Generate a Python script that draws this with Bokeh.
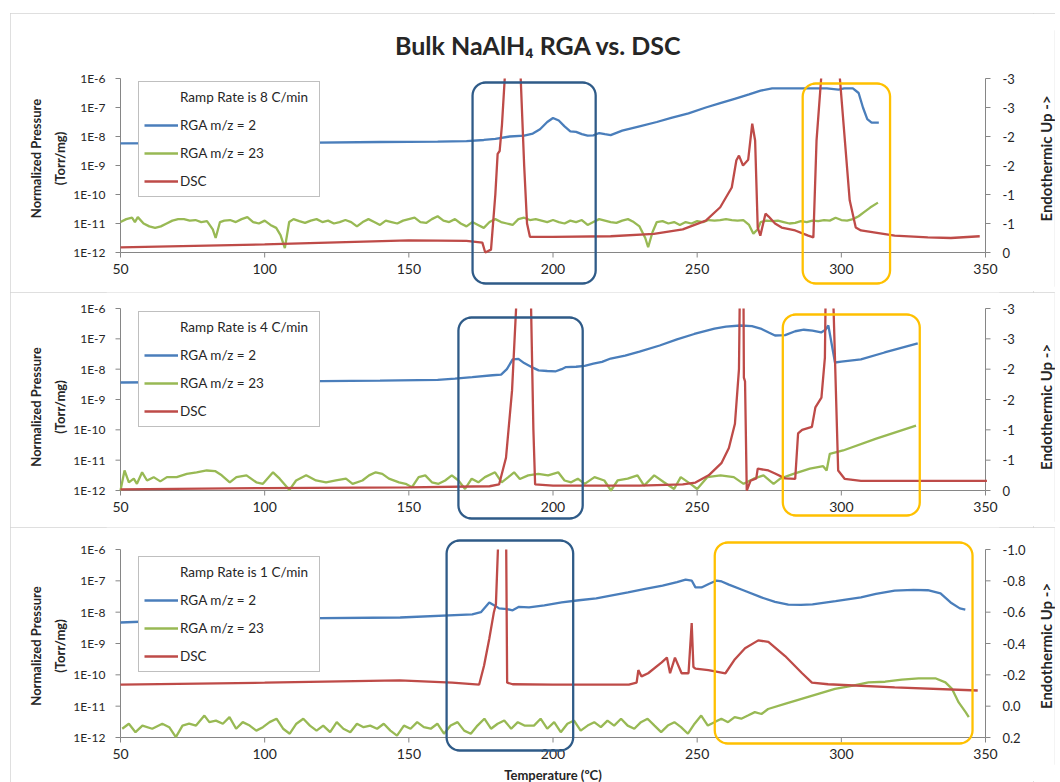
import math
from bokeh.plotting import figure
from bokeh.models import (Range1d, LinearAxis, LinearScale, FixedTicker, CustomJSTickFormatter,
                          Legend, LegendItem, PolyAnnotation, Title, Spacer)
from bokeh.core.properties import value
from bokeh.layouts import column, row
from bokeh.embed import file_html
from bokeh.resources import INLINE

# ---------------- texts / ticks ----------------
CHART_TITLE = "Bulk NaAlH\u2084 RGA vs. DSC"
X_LABEL = "Temperature (\u00baC)"
Y_LABEL = "Normalized Pressure\n(Torr/mg)"
Y2_LABEL = "Endothermic Up ->"
SERIES = ["RGA m/z = 2", "RGA m/z = 23", "DSC"]
RAMP_LABELS = ["Ramp Rate is 8 C/min", "Ramp Rate is 4 C/min", "Ramp Rate is 1 C/min"]
TEMP_TICKS = [50, 100, 150, 200, 250, 300, 350]
PRESSURE_TICKS = [1e-12, 1e-11, 1e-10, 1e-9, 1e-8, 1e-7, 1e-6]
DSC_TICKS_FAST = [0, -0.5, -1.0, -1.5, -2.0, -2.5, -3.0]
DSC_TICKS_SLOW = [0.2, 0.0, -0.2, -0.4, -0.6, -0.8, -1.0]

# ---------------- data: (temperature, log10 pressure) and (temperature, DSC) ----------------
# Ramp 8 C/min
h2_8 = [(50,-8.24),(80,-8.23),(110,-8.22),(140,-8.19),(160,-8.18),(170,-8.16),(176,-8.12),(180,-8.08),
        (185,-8.0),(190,-7.97),(193,-7.9),(195.5,-7.75),(198,-7.5),(200,-7.36),(202,-7.45),(204,-7.65),
        (206,-7.82),(208,-7.84),(210,-7.92),(212,-7.97),(214,-7.96),(216,-7.88),(218,-7.92),(220,-7.95),
        (224,-7.8),(230,-7.65),(236,-7.5),(241,-7.36),(247,-7.2),(253,-7.0),(258,-6.85),(263,-6.7),
        (268,-6.55),(272,-6.42),(276,-6.34),(285,-6.34),(295,-6.34),(299,-6.38),(301,-6.34),(304,-6.34),
        (306,-6.5),(307.5,-7.0),(309,-7.4),(310.5,-7.52),(313,-7.52)]
na_8 = [(50,-10.95),(52,-10.85),(54,-10.8),(55,-10.95),(56,-10.78),(58,-11.0),(60,-11.1),(62,-11.15),
        (64,-11.1),(66,-11.0),(68,-10.9),(70,-10.85),(72,-10.85),(74,-10.9),(76,-10.88),(78,-10.95),
        (80,-10.92),(82,-11.2),(83,-11.5),(84.5,-10.95),(86,-10.9),(88,-10.88),(90,-10.95),(92,-10.85),
        (94,-10.78),(96,-10.95),(98,-11.0),(100,-10.9),(102,-11.05),(104,-11.15),(105.5,-11.4),(107,-11.85),
        (108.5,-10.95),(110,-10.85),(112,-10.92),(114,-10.98),(116,-10.9),(118,-10.85),(120,-10.95),
        (122,-10.9),(124,-11.0),(126,-10.95),(128,-10.88),(130,-10.95),(132,-11.1),(134,-10.95),
        (136,-10.85),(138,-10.95),(140,-11.05),(142,-10.9),(144,-10.95),(146,-11.0),(148,-10.9),
        (150,-10.85),(152,-10.8),(154,-10.95),(156,-10.98),(158,-10.85),(160,-10.75),(162,-10.9),
        (164,-10.95),(166,-10.85),(168,-11.0),(170,-11.1),(172,-10.95),(174,-11.05),(176,-11.15),
        (178,-10.95),(180,-10.85),(182,-10.95),(184,-11.0),(186,-11.05),(188,-10.85),(190,-10.8),
        (192,-10.88),(194,-10.85),(196,-10.9),(198,-10.95),(200,-10.88),(202,-10.95),(204,-11.0),
        (206,-10.9),(208,-10.95),(210,-10.88),(212,-11.05),(214,-10.95),(216,-10.85),(218,-10.9),
        (220,-10.95),(222,-10.98),(224,-10.9),(226,-10.85),(228,-10.95),(230,-11.1),(232,-11.5),
        (233,-11.82),(234.5,-11.3),(236,-10.95),(238,-10.92),(240,-11.0),(242,-10.95),(244,-11.05),
        (246,-10.95),(248,-11.0),(250,-10.92),(252,-10.95),(254,-10.88),(256,-10.9),(258,-10.88),
        (260,-10.85),(262,-10.88),(264,-10.9),(266,-10.88),(268,-11.05),(269.5,-11.35),(271,-11.2),
        (272,-10.95),(274,-10.9),(276,-10.92),(278,-10.9),(280,-10.95),(282,-11.0),(284,-10.98),
        (286,-10.92),(288,-10.95),(290,-10.9),(292,-10.92),(294,-10.88),(296,-10.9),(298,-10.8),
        (300,-10.88),(302,-10.9),(304,-10.85),(306,-10.75),(308,-10.6),(310,-10.45),(312.7,-10.28)]
dsc_8 = [(50,-0.09),(100,-0.14),(150,-0.21),(170,-0.2),(175.5,-0.17),(176.5,0.0),(178.5,-0.05),
         (180,-1.0),(180.8,-1.7),(181.5,-1.75),(182.3,-2.2),(183.5,-3.2),(185,-5.0),(187.5,-5.0),
         (188.8,-3.0),(190,-1.5),(191,-0.5),(192,-0.27),(200,-0.27),(220,-0.28),(235,-0.32),(245,-0.4),
         (253,-0.55),(258,-0.78),(262,-1.12),(263.6,-1.59),(264.5,-1.67),(265.9,-1.5),(267.7,-1.6),
         (269.1,-2.22),(270.1,-1.93),(271,-0.43),(271.9,-0.29),(273.7,-0.67),(274.8,-0.62),(277,-0.5),
         (279.3,-0.43),(284,-0.38),(288.5,-0.29),(290.3,-0.26),(291.4,-1.93),(293,-3.0),(294,-5.0),
         (298.5,-5.0),(299.5,-3.0),(302.9,-0.9),(305,-0.43),(306.8,-0.38),(318.5,-0.29),(330,-0.26),
         (338,-0.25),(348,-0.28)]

# Ramp 4 C/min
h2_4 = [(50,-8.44),(80,-8.42),(110,-8.4),(140,-8.38),(160,-8.35),(166,-8.31),(172,-8.26),(179,-8.2),
        (182,-8.18),(184,-8.0),(186,-7.68),(188,-7.66),(190,-7.8),(193,-7.95),(195,-8.04),(198,-8.06),
        (201,-8.07),(203,-8.0),(204.5,-7.93),(208,-7.92),(211,-7.89),(214,-7.82),(217,-7.76),(220,-7.65),
        (225,-7.55),(230,-7.42),(237,-7.22),(243,-7.02),(249,-6.84),(256,-6.66),(260,-6.6),(265,-6.56),
        (269,-6.58),(272,-6.66),(275,-6.8),(277,-6.89),(280.5,-6.88),(284,-6.75),(287,-6.7),(290,-6.73),
        (293,-6.79),(294.5,-6.7),(295.5,-6.56),(297.8,-7.78),(300,-7.75),(306.8,-7.68),(315,-7.45),
        (326.5,-7.15)]
na_4 = [(50,-12.0),(51.4,-11.34),(52.9,-11.73),(54.6,-11.61),(55.7,-11.78),(57.5,-11.4),(59.2,-11.67),
        (61.5,-11.56),(63.8,-11.7),(66.1,-11.56),(69.5,-11.56),(73,-11.45),(76.4,-11.4),(79.9,-11.34),
        (82.8,-11.36),(85.1,-11.5),(87.9,-11.73),(90.2,-11.56),(93.7,-11.5),(97.1,-11.73),(99.4,-11.78),
        (102.9,-11.4),(105.2,-11.61),(108.6,-11.98),(110.9,-11.67),(114.4,-11.5),(117.8,-11.67),
        (121.3,-11.73),(124.7,-11.67),(128.2,-11.61),(130.5,-11.78),(133.9,-11.67),(136.2,-11.5),
        (138.5,-11.4),(140.8,-11.45),(143.1,-11.61),(146.6,-11.73),(148.9,-11.78),(151.1,-11.89),
        (153.4,-11.56),(155.7,-11.5),(158,-11.73),(160.3,-11.78),(162.6,-11.67),(164.9,-11.5),
        (167.2,-11.67),(169.5,-11.95),(171.8,-11.61),(174.1,-11.73),(176.4,-11.56),(179.9,-11.4),
        (182.2,-11.73),(184.5,-11.56),(186.5,-11.4),(188.5,-11.62),(191.4,-11.5),(194.9,-11.45),
        (198.3,-11.5),(201.8,-11.4),(204,-11.67),(206.3,-11.73),(208.6,-11.61),(211,-11.78),
        (214.4,-11.56),(217.8,-11.67),(220.1,-12.0),(222.4,-11.67),(225.9,-11.61),(229.3,-11.5),
        (231.6,-11.84),(235.1,-11.5),(238.5,-11.73),(242,-11.95),(244.3,-11.56),(247.7,-11.78),
        (250,-11.95),(253.5,-11.56),(258.1,-11.5),(262.7,-11.56),(266.1,-11.78),(269.6,-11.61),
        (273,-11.5),(276.5,-11.78),(278.8,-11.61),(283.4,-11.45),(289.1,-11.28),(293.7,-11.2),
        (294.9,-11.34),(296,-10.79),(300.6,-10.68),(312.1,-10.29),(325.9,-9.86)]
dsc_4 = [(50,-0.02),(100,-0.04),(150,-0.05),(178,-0.07),(181.3,-0.1),(183.7,-0.54),(185.8,-1.65),
         (187.2,-3.0),(188,-5.0),(191.5,-5.0),(192.4,-3.0),(193.2,-1.0),(193.8,-0.1),(200,-0.08),
         (230,-0.08),(245,-0.1),(249.4,-0.13),(254,-0.25),(258.4,-0.45),(261,-0.7),(263.1,-1.1),
         (264.5,-2.0),(265.2,-5.0),(265.9,-5.0),(266.2,-1.86),(266.6,-1.8),(267.2,0.0),(268.5,-0.16),
         (270.5,-0.2),(271,-0.36),(274.7,-0.33),(277,-0.28),(280.5,-0.2),(284,-0.19),(285,-0.94),
         (286.4,-1.0),(289.8,-1.05),(291,-1.37),(293.1,-1.53),(294.3,-2.19),(295,-5.0),(296.8,-5.0),
         (297.3,-3.0),(298.9,-0.33),(301.2,-0.19),(306.8,-0.16),(320,-0.16),(350.5,-0.16)]

# Ramp 1 C/min
h2_1 = [(50,-8.33),(78,-8.23),(110,-8.2),(147,-8.17),(172,-8.07),(175,-8.0),(177.9,-7.69),(180,-7.8),
        (181.3,-7.88),(184,-7.9),(186,-7.94),(188.2,-7.83),(191.7,-7.85),(197,-7.78),(203,-7.69),
        (209,-7.62),(215,-7.56),(220,-7.47),(226,-7.37),(232,-7.26),(238,-7.15),(243,-7.04),(246,-6.96),
        (248.1,-6.99),(249.4,-7.21),(251.5,-7.21),(254,-7.1),(256.7,-6.99),(258.5,-7.02),(261,-7.12),
        (266,-7.3),(272.3,-7.53),(277,-7.67),(281.6,-7.76),(286,-7.77),(290,-7.75),(298,-7.65),
        (306.8,-7.53),(312,-7.42),(318.5,-7.31),(325,-7.29),(330,-7.3),(334.4,-7.4),(337.9,-7.69),
        (341.1,-7.88),(343,-7.92)]
na_1 = [(50.6,-11.72),(52.9,-11.56),(55.2,-11.83),(57.6,-11.62),(61,-11.72),(64.5,-11.56),(66.9,-11.67),
        (69.2,-11.99),(71.5,-11.62),(73.8,-11.56),(76.2,-11.62),(79.1,-11.3),(80.8,-11.51),(83.1,-11.46),
        (85.5,-11.56),(87.8,-11.35),(90.1,-11.72),(92.4,-11.51),(94.8,-11.62),(97.1,-11.78),(99.4,-11.67),
        (101.7,-11.51),(104.1,-11.4),(106.4,-11.72),(108.7,-11.88),(111,-11.56),(113.4,-11.4),
        (115.7,-11.62),(118,-11.78),(120.3,-11.62),(122.7,-11.83),(125,-11.51),(127.3,-11.72),
        (129.7,-11.83),(132,-11.56),(134.3,-11.67),(136.6,-11.62),(139,-11.72),(141.3,-11.56),
        (143.6,-11.78),(145.9,-11.94),(148.3,-11.62),(150.6,-11.72),(152.9,-11.51),(155.2,-11.67),
        (157.6,-11.72),(159.9,-11.56),(162.2,-11.88),(164.5,-11.62),(166.9,-11.51),(169.2,-11.78),
        (171.5,-11.88),(173.8,-11.62),(176.2,-11.4),(178.5,-11.72),(180.8,-11.56),(183.1,-11.46),
        (185.5,-11.72),(187.8,-11.51),(190.1,-11.62),(193.4,-11.62),(195.7,-11.4),(198,-11.72),
        (200.4,-11.51),(202.7,-11.83),(205,-11.56),(207.3,-11.46),(209.6,-11.78),(212,-11.62),
        (214.3,-11.51),(216.6,-11.67),(218.9,-11.46),(221.2,-11.62),(223.6,-11.4),(225.9,-11.62),
        (228.2,-11.72),(230.5,-11.51),(232.8,-11.4),(235.2,-11.62),(237.5,-11.83),(239.8,-11.62),
        (242.1,-11.51),(244.4,-11.67),(246.8,-11.88),(249.1,-11.56),(251.4,-11.3),(253.7,-11.62),
        (256,-11.51),(258.4,-11.4),(260.7,-11.51),(263,-11.35),(265.3,-11.4),(267.6,-11.3),(270,-11.19),
        (272.3,-11.25),(274.6,-11.09),(280.4,-10.93),(286.2,-10.77),(292,-10.61),(297.8,-10.45),
        (303.6,-10.35),(309.4,-10.24),(315.2,-10.22),(321,-10.15),(326.8,-10.11),(332.6,-10.11),
        (336.1,-10.24),(338.4,-10.45),(340.7,-10.88),(343.1,-11.19),(344.2,-11.35)]
dsc_1 = [(50,-0.138),(100,-0.15),(146.8,-0.164),(165,-0.15),(174.4,-0.138),(176.1,-0.26),(177.9,-0.43),
         (179.5,-0.6),(180.2,-0.65),(181.3,-1.2),(182,-1.5),(183,-1.5),(183.7,-1.2),(184.1,-0.15),
         (186,-0.14),(200,-0.138),(226.3,-0.138),(229,-0.15),(229.6,-0.23),(230.7,-0.19),(233,-0.21),
         (237.7,-0.28),(239.5,-0.31),(240.6,-0.21),(242.3,-0.31),(244.6,-0.21),(247,-0.21),(248.1,-0.53),
         (248.7,-0.25),(249.4,-0.24),(253.9,-0.23),(259.8,-0.21),(263.1,-0.3),(266.6,-0.37),(271.2,-0.42),
         (274.7,-0.41),(280.5,-0.32),(286.4,-0.21),(289.8,-0.15),(295.4,-0.14),(318.5,-0.12),(347.3,-0.1)]

# highlighted temperature windows (blue: first decomposition, gold: second)
highlight_8 = [(172.1, 214.8), (286.6, 316.9)]
highlight_4 = [(167.2, 210.3), (279.7, 327.2)]
highlight_1 = [(163.1, 207.0), (256.1, 345.5)]

# ---------------- style / layout ----------------
FONT = "Lato"
TEXT = "#262626"
AXIS_GREY = "#868686"
C_H2 = "#4a7ebb"
C_NA = "#98b954"
C_DSC = "#be4b48"
C_BOX = ["#2f5b88", "#ffc000"]
PANEL_OUTLINE = {"outline": "1px solid #d4d4d4", "outline-offset": "-1px"}

DATA_W = 865          # pixels between 50 and 350 C
EXT = 14              # frame room left/right of the data span (axis ticks, end labels)
LEFT_B, RIGHT_B = 96, 34
MAIN_W = LEFT_B + EXT + DATA_W + EXT + RIGHT_B
SIDE_W = 1045 - MAIN_W
SIDE_BORDER = SIDE_W - 15
PPX = DATA_W / 300.0
TICK = 5              # tick length, px

# pixel geometry: top/bottom = figure borders, data_h = 1E-6..1E-12 span,
# pad_top/pad_bot = frame room above/below that span (title, boxes, temperature labels)
PANELS = [
    dict(ramp=RAMP_LABELS[0], h2=h2_8, na=na_8, dsc=dsc_8, boxes=highlight_8,
         height=279, top=17, bottom=6, data_h=174, pad_top=48, pad_bot=34,
         dsc_axis=(-3.0, 0.0), dsc_ticks=DSC_TICKS_FAST, dsc_fmt="return tick.toFixed(0);",
         legend_top=53, box_px=[(4, 31), (5, 31)], title=True, xlabel=False),
    dict(ramp=RAMP_LABELS[1], h2=h2_4, na=na_4, dsc=dsc_4, boxes=highlight_4,
         height=235, top=0, bottom=6, data_h=182, pad_top=16, pad_bot=31,
         dsc_axis=(-3.0, 0.0), dsc_ticks=DSC_TICKS_FAST, dsc_fmt="return tick.toFixed(0);",
         legend_top=21, box_px=[(9, 28), (6, 25)], title=False, xlabel=False),
    dict(ramp=RAMP_LABELS[2], h2=h2_1, na=na_1, dsc=dsc_1, boxes=highlight_1,
         height=255, top=0, bottom=18, data_h=188, pad_top=22, pad_bot=27,
         dsc_axis=(-1.0, 0.2), dsc_ticks=DSC_TICKS_SLOW, dsc_fmt="return tick.toFixed(1);",
         legend_top=31, box_px=[(-9, 13), (-7, 6)], title=False, xlabel=True),
]


def label_only_axis(ax, size, standoff):
    """Axis used only for its tick labels; its rule and ticks are drawn at the data edge."""
    ax.axis_line_color = None
    ax.major_tick_line_color = None
    ax.major_tick_out = 0
    ax.major_tick_in = 0
    ax.minor_tick_line_color = None
    ax.minor_tick_out = 0
    ax.minor_tick_in = 0
    ax.major_label_standoff = standoff
    ax.major_label_text_font = FONT
    ax.major_label_text_font_size = size
    ax.major_label_text_color = TEXT


def clip_above(xs, ys, limit):
    """Break a DSC trace where it leaves the axis top (values below `limit`)."""
    ox, oy = [], []
    for i, (x, y) in enumerate(zip(xs, ys)):
        if i > 0:
            x0, y0 = xs[i - 1], ys[i - 1]
            if (y0 >= limit) != (y >= limit):
                ox.append(x0 + (limit - y0) * (x - x0) / (y - y0))
                oy.append(limit)
                if y < limit:
                    ox.append(float("nan"))
                    oy.append(float("nan"))
        if y >= limit:
            ox.append(x)
            oy.append(y)
    return ox, oy


def rounded_outline(x0, x1, ytop, ybot, px_per_x, px_per_dec, radius=13, n=8):
    """Outline of a rounded rectangle in (temperature, log-pressure) space."""
    rx, ry = radius / px_per_x, radius / px_per_dec
    xs, ys = [], []
    for cx, cy, a0 in [(x1 - rx, ytop - ry, 0), (x0 + rx, ytop - ry, 90),
                       (x0 + rx, ybot + ry, 180), (x1 - rx, ybot + ry, 270)]:
        for k in range(n + 1):
            a = math.radians(a0 + 90.0 * k / n)
            xs.append(cx + rx * math.cos(a))
            ys.append(10 ** (cy + ry * math.sin(a)))
    return xs, ys


def side_title(height, top, bottom, text):
    p = figure(width=SIDE_W, height=height, x_range=Range1d(0, 1), y_range=Range1d(0, 1),
               toolbar_location=None, output_backend="svg",
               min_border_left=SIDE_BORDER, min_border_right=0,
               min_border_top=top, min_border_bottom=bottom)
    p.xaxis.visible = False
    p.grid.visible = False
    p.outline_line_color = None
    p.border_fill_color = "white"
    ax = p.yaxis[0]
    ax.ticker = FixedTicker(ticks=[])
    label_only_axis(ax, "1px", 0)
    ax.axis_label = text
    ax.axis_label_standoff = 0
    ax.axis_label_text_font = FONT
    ax.axis_label_text_font_style = "bold"
    ax.axis_label_text_font_size = "15px"
    ax.axis_label_text_color = TEXT
    return p


def make_panel(cfg):
    data_h, pad_t, pad_b = cfg["data_h"], cfg["pad_top"], cfg["pad_bot"]
    frame_h = data_h + pad_t + pad_b
    ppd = data_h / 6.0
    ylog_hi = -6 + pad_t / ppd
    ylog_lo = -12 - pad_b / ppd
    d_top, d_bot = cfg["dsc_axis"]
    upp = (d_bot - d_top) / data_h
    dsc_hi = d_top - pad_t * upp
    dsc_lo = d_bot + pad_b * upp
    t0, t1 = TEMP_TICKS[0], TEMP_TICKS[-1]
    p_lo, p_hi = PRESSURE_TICKS[0], PRESSURE_TICKS[-1]

    p = figure(width=MAIN_W, height=cfg["height"],
               x_range=Range1d(t0 - EXT / PPX, t1 + EXT / PPX),
               y_range=Range1d(10 ** ylog_lo, 10 ** ylog_hi), y_axis_type="log",
               output_backend="svg", toolbar_location=None,
               min_border_top=cfg["top"], min_border_bottom=cfg["bottom"],
               min_border_left=LEFT_B, min_border_right=RIGHT_B)
    p.grid.visible = False
    p.outline_line_color = None
    p.background_fill_color = "white"
    p.border_fill_color = "white"
    p.xaxis.visible = False

    # left pressure axis: labels from the Bokeh axis, rule and ticks at 50 C
    ya = p.yaxis[0]
    ya.ticker = FixedTicker(ticks=PRESSURE_TICKS)
    ya.formatter = CustomJSTickFormatter(code="return '1E' + Math.round(Math.log10(tick));")
    label_only_axis(ya, "12px", 1)
    ya.axis_label = Y_LABEL
    ya.axis_label_standoff = 2
    ya.axis_label_text_font = FONT
    ya.axis_label_text_font_style = "bold"
    ya.axis_label_text_font_size = "13px"
    ya.axis_label_text_line_height = 1.5
    ya.axis_label_text_color = TEXT
    m = len(PRESSURE_TICKS)
    p.segment(x0=[t0], y0=[p_lo], x1=[t0], y1=[p_hi], line_color=AXIS_GREY, line_width=1)
    p.segment(x0=[t0] * m, y0=PRESSURE_TICKS, x1=[t0 - TICK / PPX] * m, y1=PRESSURE_TICKS,
              line_color=AXIS_GREY, line_width=1)

    # right DSC axis: labels from the Bokeh axis, rule and ticks at 350 C
    p.extra_y_ranges = {"dsc": Range1d(start=dsc_lo, end=dsc_hi)}
    p.extra_y_scales = {"dsc": LinearScale()}
    ra = LinearAxis(y_range_name="dsc", ticker=FixedTicker(ticks=cfg["dsc_ticks"]),
                    formatter=CustomJSTickFormatter(code=cfg["dsc_fmt"]))
    label_only_axis(ra, "13px", 3)
    p.add_layout(ra, "right")
    k = len(cfg["dsc_ticks"])
    p.segment(x0=[t1], y0=[d_bot], x1=[t1], y1=[d_top], y_range_name="dsc",
              line_color=AXIS_GREY, line_width=1)
    p.segment(x0=[t1] * k, y0=cfg["dsc_ticks"], x1=[t1 + TICK / PPX] * k, y1=cfg["dsc_ticks"],
              y_range_name="dsc", line_color=AXIS_GREY, line_width=1)

    # temperature axis drawn along the 1E-12 line
    n = len(TEMP_TICKS)
    p.segment(x0=[t0], y0=[p_lo], x1=[t1], y1=[p_lo], line_color=AXIS_GREY, line_width=1)
    p.segment(x0=TEMP_TICKS, y0=[p_lo] * n, x1=TEMP_TICKS, y1=[10 ** (-12 - TICK / ppd)] * n,
              line_color=AXIS_GREY, line_width=1)
    p.text(x=TEMP_TICKS, y=[p_lo] * n, text=[str(t) for t in TEMP_TICKS], y_offset=11,
           text_align="center", text_baseline="top", text_font=value(FONT),
           text_font_size="14px", text_color=TEXT)

    # series
    t, lp = zip(*cfg["h2"])
    r_h2 = p.line(list(t), [10 ** v for v in lp], line_color=C_H2, line_width=2.3)
    t, lp = zip(*cfg["na"])
    r_na = p.line(list(t), [10 ** v for v in lp], line_color=C_NA, line_width=2.3)
    t, dv = zip(*cfg["dsc"])
    cx, cy = clip_above(list(t), list(dv), d_top)
    r_dsc = p.line(cx, cy, y_range_name="dsc", line_color=C_DSC, line_width=2.3)
    r_head = p.line([], [], line_alpha=0)

    # highlight boxes (rounded)
    for (x0, x1), (pt, pb), col in zip(cfg["boxes"], cfg["box_px"], C_BOX):
        yt = -6 - pt / ppd
        yb = -12 - pb / ppd
        xs, ys = rounded_outline(x0, x1, yt, yb, PPX, ppd)
        p.add_layout(PolyAnnotation(xs=xs, ys=ys, fill_alpha=0, line_color=col,
                                    line_alpha=1, line_width=2.3))

    legend_h = 2 * 5 + 4 * 20 + 3 * 8
    legend = Legend(items=[LegendItem(label=cfg["ramp"], renderers=[r_head]),
                           LegendItem(label=SERIES[0], renderers=[r_h2]),
                           LegendItem(label=SERIES[1], renderers=[r_na]),
                           LegendItem(label=SERIES[2], renderers=[r_dsc])],
                    location=(EXT + 18, frame_h - cfg["legend_top"] - legend_h),
                    padding=5, spacing=8, margin=0,
                    label_height=20, glyph_height=20, glyph_width=34, label_standoff=2,
                    label_width=134, border_line_color="#7f7f7f", border_line_width=1,
                    label_text_font=FONT, label_text_font_size="13.5px", label_text_color=TEXT,
                    background_fill_color="white", background_fill_alpha=1)
    p.add_layout(legend)

    if cfg["title"]:
        # chart title, centred above the first panel's data area
        p.text(x=[t0], y=[p_hi], text=[CHART_TITLE],
               x_offset=418, y_offset=-34, text_align="center", text_baseline="middle",
               text_font=value(FONT), text_font_size="25px", text_font_style="bold",
               text_color=TEXT)
    if cfg["xlabel"]:
        kw = dict(text=X_LABEL, align="center", text_font=FONT, text_font_size="13px",
                  text_font_style="bold", text_color=TEXT)
        if "standoff" in Title.properties():
            kw["standoff"] = 0
        p.add_layout(Title(**kw), "below")

    right_t = side_title(cfg["height"], cfg["top"], cfg["bottom"], Y2_LABEL)
    return row(p, right_t, spacing=0, styles=PANEL_OUTLINE)


rows = [make_panel(c) for c in PANELS]
layout = row(Spacer(width=10, height=782),
             column(Spacer(width=MAIN_W + SIDE_W, height=13), *rows, spacing=0), spacing=0)
open("out.html", "w").write(file_html(layout, INLINE))
